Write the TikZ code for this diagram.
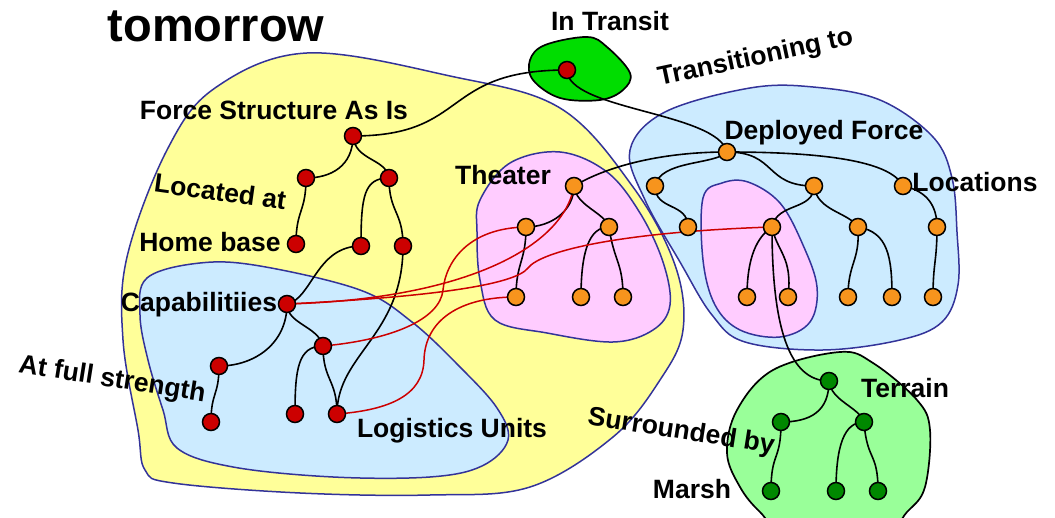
\documentclass[tikz,border=0pt]{standalone}
\usepackage{fontspec}
\setmainfont{Liberation Sans}
\pgfdeclarelayer{blobs}
\pgfdeclarelayer{edges}
\pgfsetlayers{blobs,edges,main}
\definecolor{yel}{HTML}{FFFF99}
\definecolor{lblue}{HTML}{CCEBFF}
\definecolor{lpink}{HTML}{FFCCFF}
\definecolor{outl}{HTML}{333399}
\definecolor{itgreen}{HTML}{00DD00}
\definecolor{tgreen}{HTML}{99FF99}
\definecolor{nodered}{HTML}{CC0000}
\definecolor{nodeorange}{HTML}{F7941D}
\definecolor{nodegreen}{HTML}{008800}
\begin{document}
\begin{tikzpicture}[x=1pt,y=-1pt,
 dot/.style={circle,draw=black,line width=1.5pt,minimum size=17pt,inner sep=0pt},
 rdot/.style={dot,fill=nodered},
 odot/.style={dot,fill=nodeorange},
 gdot/.style={dot,fill=nodegreen},
 edge/.style={line width=1.6pt,black},
 redge/.style={line width=1.5pt,nodered},
 blob/.style={draw=outl,line width=1.5pt},
 gblob/.style={draw=black,line width=1.7pt},
 lbl/.style={font=\fontsize{26.5}{30}\selectfont\bfseries,inner sep=0pt,anchor=base}]
\useasboundingbox (0,0) rectangle (1055,518);

% ---------- blobs ----------
\begin{pgfonlayer}{blobs}
\path[blob,fill=yel] plot[smooth cycle,tension=0.6] coordinates {(307,53) (450,76) (560,108) (633,187) (675,265) (683,330) (660,380) (613,437) (530,487) (430,495) (300,493) (173,483) (145,470) (138,430) (123,340) (127,257) (167,150) (215,88)};
\path[blob,fill=lblue] plot[smooth cycle,tension=0.6] coordinates {(147,278) (200,263) (260,266) (360,290) (412,322) (460,367) (497,408) (508,440) (482,466) (430,477) (333,477) (233,467) (177,448) (163,410) (148,360) (140,315)};
\path[blob,fill=lpink] plot[smooth cycle,tension=0.6] coordinates {(480,200) (510,163) (560,152) (607,172) (640,213) (663,262) (670,305) (653,330) (613,342) (547,333) (495,320) (480,280) (477,232)};
\path[blob,fill=lblue] plot[smooth cycle,tension=0.6] coordinates {(630,150) (665,112) (750,88) (813,87) (880,100) (933,137) (952,178) (957,232) (958,285) (942,322) (900,340) (823,350) (745,342) (712,315) (680,262) (645,200)};
\path[blob,fill=lpink] plot[smooth cycle,tension=0.6] coordinates {(703,198) (722,183) (748,182) (780,203) (803,245) (817,287) (810,322) (780,337) (740,330) (715,305) (703,260)};
\path[gblob,fill=itgreen] plot[smooth cycle,tension=0.6] coordinates {(530,60) (545,45) (587,37) (607,47) (630,73) (623,90) (600,100) (560,98) (533,80)};
\path[gblob,fill=tgreen] plot[smooth cycle,tension=0.6] coordinates {(773,370) (840,352) (873,363) (917,400) (930,430) (925,487) (907,512) (880,535) (790,535) (760,512) (740,487) (727,453) (737,410)};
\end{pgfonlayer}

% ---------- nodes ----------
\node[rdot] (it) at (567,70) {};
\node[rdot] (fs) at (353,136) {};
\node[rdot] (r1) at (306,178) {};
\node[rdot] (r2) at (389,178) {};
\node[rdot] (hb) at (296,244) {};
\node[rdot] (r3) at (361,246) {};
\node[rdot] (r4) at (403,246) {};
\node[rdot] (cap) at (287,304) {};
\node[rdot] (fs1) at (219,366) {};
\node[rdot] (fs2) at (211,422) {};
\node[rdot] (m) at (323,346) {};
\node[rdot] (l1) at (295,414) {};
\node[rdot] (l2) at (337,414) {};

\node[odot] (th) at (574,186) {};
\node[odot] (t1) at (526,227) {};
\node[odot] (t2) at (609,227) {};
\node[odot] (t3) at (516,297) {};
\node[odot] (t4) at (581,297) {};
\node[odot] (t5) at (623,297) {};

\node[odot] (df) at (727,152) {};
\node[odot] (d1) at (655,186) {};
\node[odot] (d2) at (688,227) {};
\node[odot] (d3) at (814,186) {};
\node[odot] (d4) at (772,227) {};
\node[odot] (d5) at (858,227) {};
\node[odot] (loc) at (903,186) {};
\node[odot] (d6) at (937,227) {};
\node[odot] (e1) at (747,297) {};
\node[odot] (e2) at (788,297) {};
\node[odot] (e3) at (848,297) {};
\node[odot] (e4) at (892,297) {};
\node[odot] (e5) at (933,297) {};

\node[gdot] (g0) at (829,381) {};
\node[gdot] (g1) at (781,422) {};
\node[gdot] (g2) at (864,422) {};
\node[gdot] (g3) at (771,491) {};
\node[gdot] (g4) at (836,491) {};
\node[gdot] (g5) at (878,491) {};

\coordinate (k1) at (528,268);
\coordinate (k2) at (443,290);
\coordinate (k3) at (424,360);

% ---------- edges ----------
\begin{pgfonlayer}{edges}
\draw[edge] (fs.center) .. controls +(0,30) and +(25,0) .. (r1.center);
\draw[edge] (fs.center) .. controls +(2,25) and +(-3,-20) .. (r2.center);
\draw[edge] (r1.center) .. controls +(0,35) and +(0,-35) .. (hb.center);
\draw[edge] (r2.center) .. controls +(-25,0) and +(0,-50) .. (r3.center);
\draw[edge] (r2.center) .. controls +(0,35) and +(0,-35) .. (r4.center);
\draw[edge] (r3.center) .. controls +(-45,0) and +(25,-5) .. (cap.center);
\draw[edge] (r4.center) .. controls +(0,90) and +(0,-60) .. (l2.center);
\draw[edge] (cap.center) .. controls +(0,40) and +(35,0) .. (fs1.center);
\draw[edge] (fs1.center) .. controls +(0,30) and +(0,-30) .. (fs2.center);
\draw[edge] (cap.center) .. controls +(0,20) and +(-5,-20) .. (m.center);
\draw[edge] (m.center) .. controls +(-25,0) and +(0,-45) .. (l1.center);
\draw[edge] (m.center) .. controls +(0,35) and +(0,-35) .. (l2.center);
\draw[edge] (fs.center) .. controls +(117,0) and +(-127,0) .. (it.center);
\draw[edge] (it.center) .. controls +(0,40) and +(-10,-40) .. (df.center);
\draw[edge] (th.center) .. controls +(30,-18) and +(-70,0) .. (df.center);
\draw[edge] (th.center) .. controls +(0,25) and +(25,0) .. (t1.center);
\draw[edge] (th.center) .. controls +(2,20) and +(-5,-15) .. (t2.center);
\draw[edge] (t1.center) .. controls +(0,35) and +(0,-35) .. (t3.center);
\draw[edge] (t2.center) .. controls +(-20,0) and +(0,-45) .. (t4.center);
\draw[edge] (t2.center) .. controls +(5,35) and +(0,-35) .. (t5.center);
\draw[edge] (df.center) .. controls +(-12,13) and +(5,-26) .. (d1.center);
\draw[edge] (d1.center) .. controls +(0,25) and +(0,-25) .. (d2.center);
\draw[edge] (df.center) .. controls +(50,0) and +(-50,0) .. (d3.center);
\draw[edge] (d3.center) .. controls +(0,25) and +(5,-25) .. (d4.center);
\draw[edge] (d3.center) .. controls +(3,25) and +(-10,-15) .. (d5.center);
\draw[edge] (df.center) .. controls +(120,0) and +(-10,-20) .. (loc.center);
\draw[edge] (loc.center) .. controls +(25,5) and +(0,-20) .. (d6.center);
\draw[edge] (d6.center) .. controls +(0,35) and +(0,-35) .. (e5.center);
\draw[edge] (d4.center) .. controls +(-15,10) and +(0,-40) .. (e1.center);
\draw[edge] (d4.center) .. controls +(5,25) and +(5,-40) .. (e2.center);
\draw[edge] (d5.center) .. controls +(2,35) and +(0,-35) .. (e3.center);
\draw[edge] (d5.center) .. controls +(30,5) and +(0,-40) .. (e4.center);
\draw[edge] (d4.center) .. controls +(0,100) and +(-40,0) .. (g0.center);
\draw[edge] (g0.center) .. controls +(0,30) and +(30,0) .. (g1.center);
\draw[edge] (g0.center) .. controls +(2,20) and +(-5,-15) .. (g2.center);
\draw[edge] (g1.center) .. controls +(0,40) and +(0,-40) .. (g3.center);
\draw[edge] (g2.center) .. controls +(-20,0) and +(0,-45) .. (g4.center);
\draw[edge] (g2.center) .. controls +(3,40) and +(0,-40) .. (g5.center);
% red links
\draw[redge] (cap.center) .. controls +(180,-5) and +(-10,60) .. (th.center);
\draw[redge] (cap.center) .. controls (430,297) and (515,285) .. (k1) .. controls (541,251) and (620,232) .. (d4.center);
\draw[redge] (m.center) .. controls (390,340) and (440,320) .. (k2) .. controls (446,260) and (470,228) .. (t1.center);
\draw[redge] (l2.center) .. controls (390,410) and (423,395) .. (k3) .. controls (425,320) and (460,297) .. (t3.center);
\end{pgfonlayer}

% ---------- labels ----------
\node[lbl,font=\fontsize{47}{50}\selectfont\bfseries] (ttl) at (216,42) {tomorrow};
\node[lbl] (lfs) at (274,120) {Force Structure As Is};
\node[lbl] (lit) at (610,31) {In Transit};
\node[lbl,rotate=12] (ltr) at (757,65) {Transitioning to};
\node[lbl] (lth) at (503,185) {Theater};
\node[lbl] (ldf) at (824,140) {Deployed Force};
\node[lbl] (lloc) at (975,192) {Locations};
\node[lbl,rotate=-8] (lla) at (219,201) {Located at};
\node[lbl] (lhb) at (210,252) {Home base};
\node[lbl] (lcap) at (199,312) {Capabilitiies};
\node[lbl,rotate=-9] (lafs) at (111,387) {At full strength};
\node[lbl] (llog) at (452,438) {Logistics Units};
\node[lbl,rotate=-9] (lsur) at (680,439) {Surrounded by};
\node[lbl] (lter) at (905,398) {Terrain};
\node[lbl] (lmar) at (692,498) {Marsh};
\end{tikzpicture}
\end{document}
